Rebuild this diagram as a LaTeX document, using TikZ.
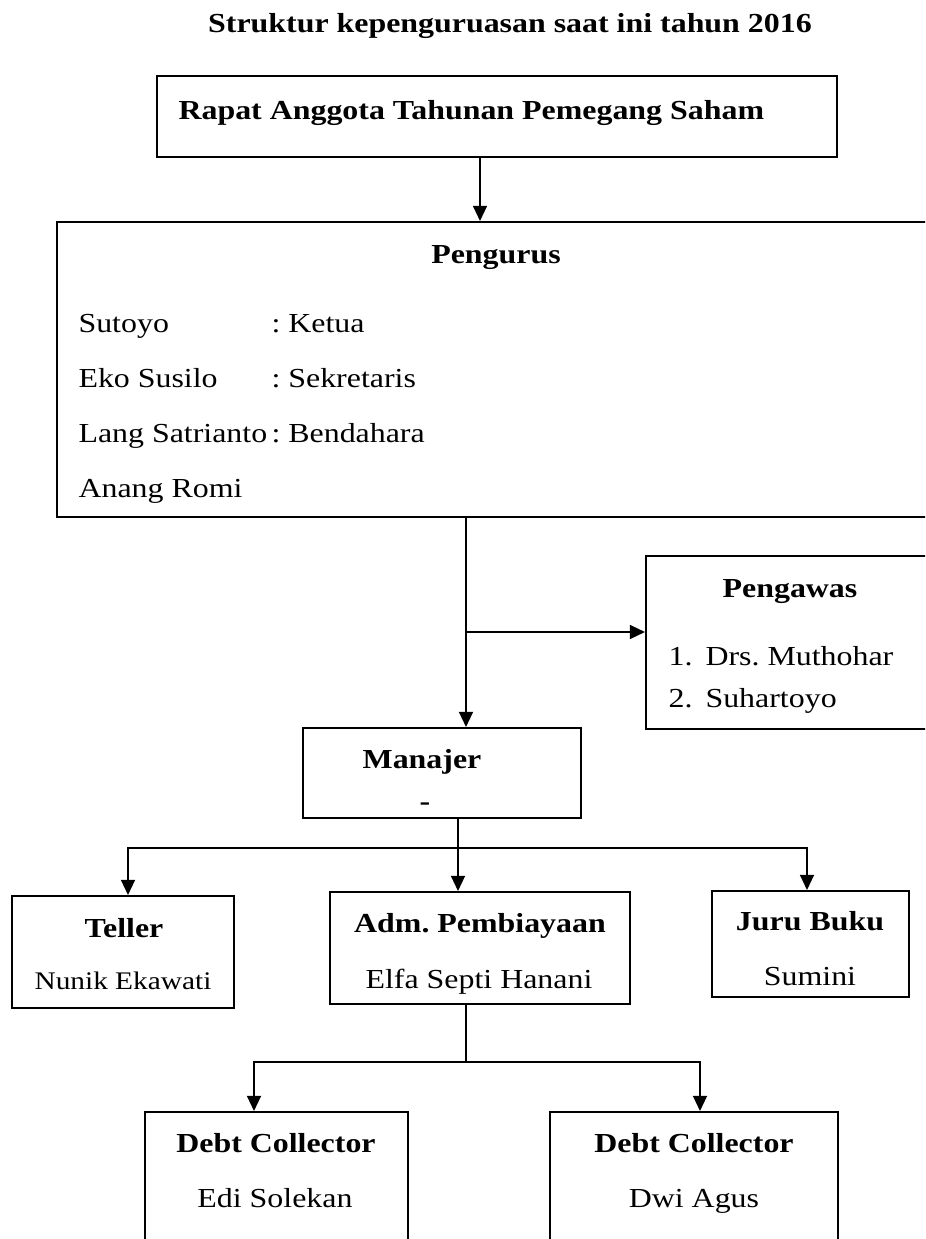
\documentclass[tikz,border=0pt]{standalone}
\usepackage{fontspec}
\setmainfont[FakeStretch=1.16]{Liberation Serif}
\usetikzlibrary{arrows.meta,fit}
\tikzset{
  kotak/.style={draw,line width=0.7pt,inner sep=0pt},
  panah/.style={line width=0.8pt,-{Triangle[length=5.5pt,width=5pt]}},
  garis/.style={line width=0.8pt},
  judul/.style={font=\bfseries,anchor=base,inner sep=0pt},
  isi/.style={anchor=base west,inner sep=0pt},
  tengah/.style={anchor=base,inner sep=0pt}
}
\frenchspacing
\begin{document}
\begin{tikzpicture}[x=0.3636pt,y=-0.3636pt]
\useasboundingbox (0,0) rectangle (925,1239);
\clip (0,0) rectangle (925,1239);

\node[kotak,fit={(157,76) (837,157)}] (rat) {};
\node[kotak,fit={(57,222) (960,517)}] (pengurus) {};
\node[kotak,fit={(646,556) (960,729)}] (pengawas) {};
\node[kotak,fit={(303,728) (581,818)}] (manajer) {};
\node[kotak,fit={(12,896) (234,1008)}] (teller) {};
\node[kotak,fit={(330,892) (630,1004)}] (adm) {};
\node[kotak,fit={(712,891) (909,997)}] (jurubuku) {};
\node[kotak,fit={(145,1112) (408,1300)}] (debta) {};
\node[kotak,fit={(550,1112) (838,1300)}] (debtb) {};

\node[judul] (tJudul) at (510,32) {Struktur kepenguruasan saat ini tahun 2016};
\node[judul,anchor=base west] (tRat) at (178,119) {Rapat Anggota Tahunan Pemegang Saham};

\node[judul] (tPengurus) at (496,263) {Pengurus};
\foreach \nama/\jab/\y [count=\i] in {Sutoyo/Ketua/332, Eko Susilo/Sekretaris/387, Lang Satrianto/Bendahara/442} {
  \node[isi] (nama\i) at (78,\y) {\nama};
  \node[isi] (jab\i) at (271,\y) {: \jab};
}
\node[isi] (nama4) at (78,497) {Anang Romi};

\node[judul] (tPengawas) at (790,597) {Pengawas};
\foreach \n/\nm/\y in {1/Drs. Muthohar/665, 2/Suhartoyo/707} {
  \node[isi] (no\n) at (668,\y) {\n.};
  \node[isi] (awas\n) at (705,\y) {\nm};
}

\node[judul] (tManajer) at (422,768) {Manajer};
\node[judul] (tStrip) at (425,810) {-};

\node[judul] (tTeller) at (124,937) {Teller};
\node[tengah,font=\fontsize{9.2}{11}\selectfont] (nTeller) at (123,989) {Nunik Ekawati};
\node[judul] (tAdm) at (480,932) {Adm. Pembiayaan};
\node[tengah] (nAdm) at (479,988) {Elfa Septi Hanani};
\node[judul] (tJuru) at (810,930) {Juru Buku};
\node[tengah] (nJuru) at (810,985) {Sumini};

\node[judul] (tDebta) at (276,1152) {Debt Collector};
\node[tengah] (nDebta) at (275,1207) {Edi Solekan};
\node[judul] (tDebtb) at (694,1152) {Debt Collector};
\node[tengah] (nDebtb) at (694,1207) {Dwi Agus};

\coordinate (x1) at (480,0);
\draw[panah] (rat.south -| x1) -- (pengurus.north -| x1);
\coordinate (simpang) at (466,632);
\draw[panah] (pengurus.south -| simpang) -- (manajer.north -| simpang);
\draw[panah] (simpang) -- (simpang -| pengawas.west);

\coordinate (x2) at (458,848);
\coordinate (kiri1) at (128,848);
\coordinate (kanan1) at (807,848);
\draw[panah] (manajer.south -| x2) -- (adm.north -| x2);
\draw[panah] (x2) -- (kiri1) -- (teller.north -| kiri1);
\draw[panah] (x2) -- (kanan1) -- (jurubuku.north -| kanan1);

\coordinate (x3) at (466,1062);
\coordinate (kiri2) at (254,1062);
\coordinate (kanan2) at (700,1062);
\draw[garis] (adm.south -| x3) -- (x3);
\draw[panah] (x3) -- (kiri2) -- (debta.north -| kiri2);
\draw[panah] (x3) -- (kanan2) -- (debtb.north -| kanan2);
\end{tikzpicture}
\end{document}
